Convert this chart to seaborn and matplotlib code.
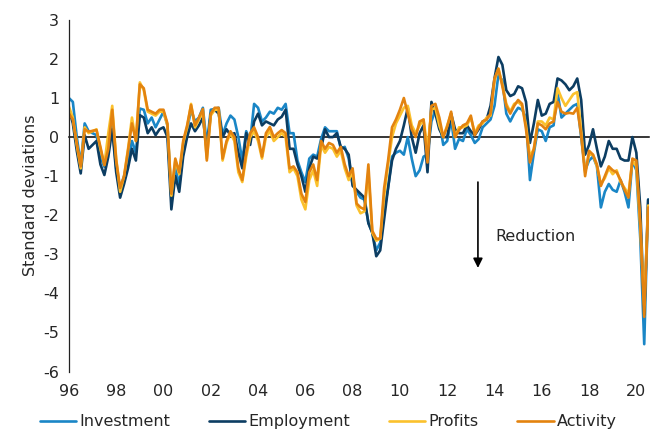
import matplotlib.pyplot as plt
import seaborn as sns
import numpy as np
import pandas as pd

# bi-monthly readings, Jan 1996 to mid 2020 (standard deviations from mean)
investment = [1.0, 0.9, 0.0, -0.7, 0.35, 0.15,
              0.1, 0.05, -0.5, -0.76, -0.3, 0.3,
              -0.8, -1.3, -1.0, -0.6, -0.1, -0.4,
              0.73, 0.7, 0.35, 0.5, 0.25, 0.45,
              0.65, 0.3, -1.55, -0.75, -1.25, -0.3,
              0.2, 0.7, 0.4, 0.5, 0.75, -0.2,
              0.7, 0.72, 0.75, 0.05, 0.35, 0.55,
              0.45, 0.0, -0.6, 0.15, -0.1, 0.85,
              0.75, 0.4, 0.5, 0.65, 0.6, 0.75,
              0.7, 0.85, 0.1, 0.1, -0.6, -0.9,
              -1.15, -0.55, -0.45, -0.5, -0.05, 0.25,
              0.15, 0.15, 0.15, -0.3, -0.25, -0.55,
              -1.2, -1.4, -1.55, -1.6, -2.2, -2.45,
              -2.9, -2.7, -1.9, -1.3, -0.5, -0.4,
              -0.35, -0.45, 0.0, -0.55, -1.0, -0.85,
              -0.5, -0.45, 0.4, 0.7, 0.4, -0.2,
              -0.1, 0.45, -0.3, -0.05, -0.1, 0.2,
              0.05, -0.15, -0.05, 0.25, 0.35, 0.45,
              0.8, 1.6, 1.45, 0.6, 0.4, 0.6,
              0.75, 0.7, 0.5, -1.1, -0.4, 0.2,
              0.15, -0.1, 0.25, 0.3, 1.15, 0.5,
              0.6, 0.7, 0.8, 0.85, 0.0, -0.85,
              -0.6, -0.5, -0.75, -1.8, -1.4, -1.2,
              -1.35, -1.4, -1.1, -1.4, -1.8, -0.6,
              -0.85, -2.6, -5.3, -1.6]
employment = [0.73, 0.35, -0.35, -0.93, 0.05, -0.3,
              -0.2, -0.1, -0.7, -0.97, -0.5, 0.2,
              -0.9, -1.55, -1.2, -0.8, -0.3, -0.6,
              0.56, 0.5, 0.1, 0.25, 0.05, 0.2,
              0.25, 0.0, -1.85, -1.0, -1.4, -0.5,
              0.0, 0.35, 0.15, 0.3, 0.5, -0.35,
              0.6, 0.7, 0.6, 0.0, 0.2, 0.05,
              0.1, -0.4, -0.8, 0.1, -0.2, 0.4,
              0.6, 0.3, 0.4, 0.35, 0.3, 0.45,
              0.52, 0.7, -0.3, -0.3, -0.7, -1.0,
              -1.4, -0.8, -0.5, -0.55, -0.3, 0.2,
              0.0, 0.0, 0.1, -0.25, -0.3, -0.45,
              -1.25, -1.35, -1.45, -1.55, -2.2, -2.45,
              -3.05, -2.9, -2.1, -1.3, -0.6, -0.3,
              -0.1, 0.3, 0.75, 0.0, -0.4, 0.1,
              0.3, -0.9, 0.9, 0.6, 0.2, 0.0,
              0.0, 0.6, 0.2, 0.1, 0.1, 0.3,
              0.15, 0.05, 0.2, 0.4, 0.45, 0.8,
              1.5, 2.05, 1.85, 1.2, 1.05, 1.1,
              1.3, 1.25, 0.9, -0.15, 0.35, 0.95,
              0.55, 0.6, 0.85, 0.9, 1.5, 1.45,
              1.35, 1.2, 1.3, 1.5, 0.95, -0.45,
              -0.2, 0.2, -0.3, -0.75, -0.5, -0.1,
              -0.3, -0.3, -0.55, -0.6, -0.6, 0.0,
              -0.4, -1.8, -4.55, -1.6]
profits = [0.78, 0.5, -0.2, -0.8, 0.25, 0.1,
           0.15, 0.2, -0.3, -0.7, 0.1, 0.8,
           -0.55, -1.4, -1.0, -0.3, 0.5, -0.1,
           1.4, 1.2, 0.65, 0.6, 0.55, 0.65,
           0.65, 0.3, -1.5, -0.6, -0.95, -0.15,
           0.25, 0.85, 0.25, 0.45, 0.65, -0.55,
           0.55, 0.7, 0.7, -0.6, -0.15, 0.1,
           -0.1, -0.9, -1.15, -0.5, 0.0, 0.15,
           -0.1, -0.55, 0.0, 0.15, -0.1, 0.0,
           0.1, 0.0, -0.9, -0.8, -1.0, -1.6,
           -1.85, -1.1, -0.85, -1.25, -0.2, -0.4,
           -0.25, -0.3, -0.5, -0.35, -0.8, -1.1,
           -0.9, -1.75, -1.95, -1.9, -0.9, -2.45,
           -2.65, -2.6, -1.5, -0.7, 0.0, 0.35,
           0.55, 0.75, 0.8, 0.3, 0.1, 0.3,
           0.45, -0.3, 0.7, 0.75, 0.3, 0.0,
           0.3, 0.6, 0.0, 0.25, 0.25, 0.3,
           0.5, 0.1, 0.3, 0.35, 0.5, 0.55,
           1.45, 1.75, 1.35, 0.85, 0.65, 0.85,
           0.9, 0.8, 0.3, -0.5, -0.3, 0.4,
           0.4, 0.3, 0.5, 0.45, 1.25, 1.0,
           0.8, 0.95, 1.1, 1.15, 0.15, -0.9,
           -0.45, -0.45, -0.75, -1.2, -1.05, -0.8,
           -0.95, -0.85, -1.15, -1.3, -1.45, -0.6,
           -0.75, -2.3, -4.3, -1.75]
activity = [0.6, 0.45, -0.15, -0.75, 0.2, 0.14,
            0.16, 0.18, -0.25, -0.72, -0.3, 0.7,
            -0.6, -1.3, -1.0, -0.35, 0.35, -0.1,
            1.35, 1.25, 0.7, 0.65, 0.6, 0.7,
            0.7, 0.35, -1.45, -0.55, -0.9, -0.1,
            0.3, 0.82, 0.3, 0.5, 0.72, -0.6,
            0.6, 0.75, 0.75, -0.55, -0.1, 0.15,
            0.0, -0.8, -1.1, -0.4, 0.1, 0.25,
            0.0, -0.5, 0.1, 0.26, 0.0, 0.1,
            0.18, 0.1, -0.8, -0.75, -0.9, -1.45,
            -1.66, -0.9, -0.7, -1.1, -0.1, -0.3,
            -0.15, -0.2, -0.4, -0.25, -0.7, -1.0,
            -0.8, -1.7, -1.8, -1.85, -0.7, -2.4,
            -2.6, -2.6, -1.3, -0.6, 0.25, 0.45,
            0.7, 1.0, 0.6, 0.2, 0.0, 0.4,
            0.45, -0.65, 0.8, 0.85, 0.5, 0.0,
            0.27, 0.65, 0.0, 0.18, 0.3, 0.35,
            0.55, 0.05, 0.25, 0.4, 0.45, 0.6,
            1.5, 1.75, 1.3, 0.8, 0.6, 0.8,
            0.95, 0.85, 0.2, -0.65, -0.3, 0.35,
            0.3, 0.2, 0.35, 0.4, 0.9, 0.65,
            0.6, 0.62, 0.6, 0.75, 0.05, -1.0,
            -0.35, -0.45, -0.7, -1.25, -1.0, -0.75,
            -0.85, -0.9, -1.1, -1.35, -1.55, -0.55,
            -0.6, -2.2, -4.6, -1.8]

series_names = ['Investment', 'Employment', 'Profits', 'Activity']
series_colors = ['#1a86c6', '#0c3d62', '#fbc12d', '#e3830f']
year_ticks = [1996, 1998, 2000, 2002, 2004, 2006, 2008, 2010, 2012, 2014, 2016, 2018, 2020]
year_labels = ['96', '98', '00', '02', '04', '06', '08', '10', '12', '14', '16', '18', '20']
y_ticks = [3, 2, 1, 0, -1, -2, -3, -4, -5, -6]


def build_frame():
    years = 1996 + np.arange(len(investment)) / 6  # two months per step
    frames = []
    for name, values in zip(series_names, [investment, employment, profits, activity]):
        frames.append(pd.DataFrame({'year': years, 'value': values, 'series': name}))
    return pd.concat(frames, ignore_index=True)


def plot_indicators(data):
    sns.set_style('white')
    plt.rcParams['font.family'] = ['DejaVu Sans']
    plt.rcParams['font.size'] = 11.5
    plt.rcParams['axes.unicode_minus'] = False

    plt.figure(figsize=(6.5, 4.32), dpi=100)
    sns.lineplot(data=data, x='year', y='value', hue='series', hue_order=series_names,
                 palette=series_colors, linewidth=1.9, estimator=None)
    ax = plt.gca()
    plt.subplots_adjust(left=0.106, right=0.999, top=0.954, bottom=0.14)

    plt.xlim(1996, 2020.55)
    plt.ylim(-6, 3)
    plt.yticks(y_ticks, [str(t) for t in y_ticks])
    plt.ylabel('Standard deviations')
    plt.xlabel('')

    # horizontal axis runs through zero, labels stay at the bottom
    ax.spines['top'].set_visible(False)
    ax.spines['right'].set_visible(False)
    ax.spines['left'].set_color('#222222')
    ax.spines['left'].set_linewidth(0.9)
    ax.spines['bottom'].set_position(('data', 0))
    ax.spines['bottom'].set_color('black')
    ax.spines['bottom'].set_linewidth(1.1)
    ax.spines['bottom'].set_zorder(1)
    plt.xticks(year_ticks, ['' for _ in year_ticks])
    ax.tick_params(axis='x', direction='out', length=4, width=0.9, color='#222222')
    ax.tick_params(axis='y', direction='out', length=4, width=0.9, color='#222222', pad=3)
    sec = ax.secondary_xaxis('bottom')
    sec.set_xticks(year_ticks, year_labels)
    sec.tick_params(length=0, pad=9)
    sec.spines['bottom'].set_visible(False)

    plt.annotate('', xy=(2013.3, -3.42), xytext=(2013.3, -1.08),
                 arrowprops=dict(arrowstyle='-|>', color='black', lw=1.2, mutation_scale=14))
    plt.text(2014.05, -2.54, 'Reduction', va='center', ha='left')

    handles, labels = ax.get_legend_handles_labels()
    ax.get_legend().remove()
    plt.legend(handles, labels, ncol=4, loc='center', bbox_to_anchor=(0.505, 0.024),
               bbox_transform=plt.gcf().transFigure, frameon=False, handlelength=2.3,
               handletextpad=0.2, columnspacing=2.4, borderaxespad=0)
    plt.savefig('out.png', dpi=100)


plot_indicators(build_frame())
